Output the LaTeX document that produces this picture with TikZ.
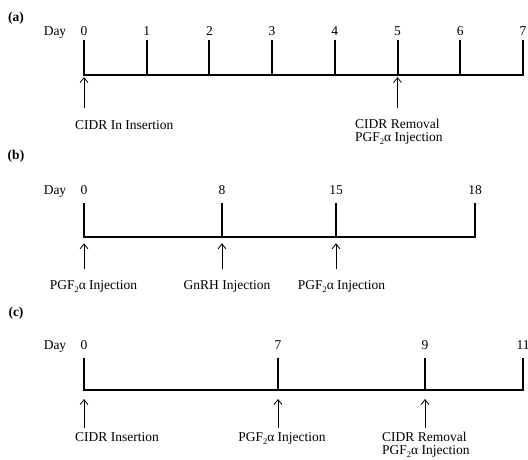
\documentclass[tikz,border=0pt]{standalone}
\usepackage{fontspec}
\setmainfont{Liberation Serif}
\usetikzlibrary{arrows.meta}
\newcommand{\pgfsub}{PGF\raisebox{-0.45ex}{\fontsize{8.5}{9}\selectfont 2}α}
\begin{document}
\begin{tikzpicture}[x=1pt,y=-1pt,
  txt/.style={font=\fontsize{13.5}{15}\selectfont, inner sep=0pt, anchor=base},
  lft/.style={txt, anchor=base west},
  panel/.style={font=\fontsize{13.5}{15}\selectfont\bfseries, inner sep=0pt, anchor=base},
  axisline/.style={line width=2pt, line join=miter},
  evarrow/.style={line width=0.8pt, -{Straight Barb[length=5pt,width=8pt,line width=0.8pt]}}
]
\useasboundingbox (0,0) rectangle (528,459);

% ---------- (a) ----------
\node[panel] (pa) at (16,21.5) {(a)};
\node[txt] (dayA) at (55,35.5) {Day};
\foreach \i in {0,...,7} {
  \pgfmathsetmacro{\xx}{84+62.7*\i}
  \node[txt] (na\i) at (\xx,35.5) {\i};
  \coordinate (ta\i) at (\xx,40);
  \coordinate (ba\i) at (\xx,75);
}
\draw[axisline] (ta0) -- (ba0) -- (ba7) -- (ta7);
\foreach \i in {1,...,6} { \draw[axisline] (ta\i) -- (ba\i); }
\coordinate (sa0) at (84,108);   \coordinate (ea0) at (84,77);
\coordinate (sa5) at (397.5,108); \coordinate (ea5) at (397.5,77);
\draw[evarrow] (sa0) -- (ea0);
\draw[evarrow] (sa5) -- (ea5);
\node[lft] (la0) at (75,129.5) {CIDR In Insertion};
\node[lft] (la5a) at (355,128) {CIDR Removal};
\node[lft] (la5b) at (355,141.5) {\pgfsub{} Injection};

% ---------- (b) ----------
\node[panel] (pb) at (16,159.5) {(b)};
\node[txt] (dayB) at (55,194.5) {Day};
\foreach \i/\xx in {0/84,8/222,15/336,18/475} {
  \node[txt] (nb\i) at (\xx,194.5) {\i};
  \coordinate (tb\i) at (\xx,203.3);
  \coordinate (bb\i) at (\xx,237.3);
}
\draw[axisline] (tb0) -- (bb0) -- (bb18) -- (tb18);
\draw[axisline] (tb8) -- (bb8);
\draw[axisline] (tb15) -- (bb15);
\foreach \i/\xx in {0/84,8/222,15/336} {
  \coordinate (sb\i) at (\xx,269.3);
  \coordinate (eb\i) at (\xx,243.3);
  \draw[evarrow] (sb\i) -- (eb\i);
}
\node[txt] (lb0) at (93.5,289.5) {\pgfsub{} Injection};
\node[txt] (lb8) at (227,289.5) {GnRH Injection};
\node[txt] (lb15) at (341.5,289.5) {\pgfsub{} Injection};

% ---------- (c) ----------
\node[panel] (pc) at (16,316) {(c)};
\node[txt] (dayC) at (55,349.5) {Day};
\foreach \i/\xx in {0/84,7/278,9/425,11/523} {
  \node[txt] (nc\i) at (\xx,349.5) {\i};
  \coordinate (tc\i) at (\xx,357.7);
  \coordinate (bc\i) at (\xx,390);
}
\draw[axisline] (tc0) -- (bc0) -- (bc11) -- (tc11);
\draw[axisline] (tc7) -- (bc7);
\draw[axisline] (tc9) -- (bc9);
\foreach \i/\xx in {0/84,7/278,9/425} {
  \coordinate (sc\i) at (\xx,427.7);
  \coordinate (ec\i) at (\xx,399);
  \draw[evarrow] (sc\i) -- (ec\i);
}
\node[txt] (lc0) at (117,441.5) {CIDR Insertion};
\node[txt] (lc7) at (282,441.5) {\pgfsub{} Injection};
\node[lft] (lc9a) at (382,441) {CIDR Removal};
\node[lft] (lc9b) at (382,454.5) {\pgfsub{} Injection};
\end{tikzpicture}
\end{document}
